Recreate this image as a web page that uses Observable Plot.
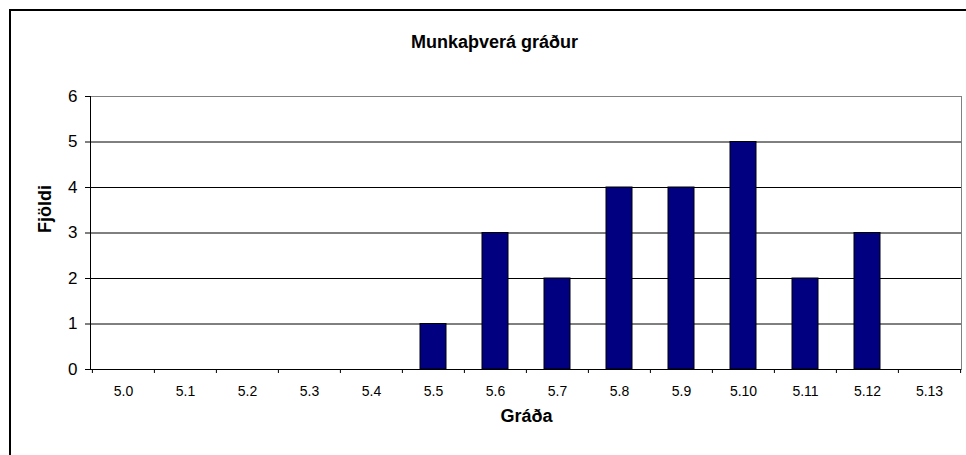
<!DOCTYPE html>
<html><head><meta charset="utf-8">
<script src="https://cdn.jsdelivr.net/npm/d3@7"></script>
<script src="https://cdn.jsdelivr.net/npm/@observablehq/plot@0.6"></script>
<style>
html,body{margin:0;padding:0;background:#fff;overflow:hidden;width:966px;height:455px;}
#border{position:absolute;left:9px;top:9px;width:1200px;height:800px;border:2px solid #000;}
#chart{position:absolute;left:0;top:0;}
</style></head><body>
<div id="border"></div><div id="chart"></div>
<script>
const categories = ["5.0","5.1","5.2","5.3","5.4","5.5","5.6","5.7","5.8","5.9","5.10","5.11","5.12","5.13"];
const counts = [0,0,0,0,0,1,3,2,4,4,5,2,3,0];
const yTicks = [0,1,2,3,4,5,6];
const title = "Munkaþverá gráður";
const xLabel = "Gráða";
const yLabel = "Fjöldi";

const data = categories.map((c, i) => ({cat: c, n: counts[i]}));
const W = 966, H = 455, mL = 90, mR = 5, mT = 96, mB = 86;
const bw = (W - mL - mR) / categories.length;
const font = "'Liberation Sans', Arial, sans-serif";

const plot = Plot.plot({
  width: W, height: H,
  marginLeft: mL, marginRight: mR, marginTop: mT, marginBottom: mB,
  style: {fontFamily: font, background: "transparent", color: "#000"},
  x: {type: "band", domain: categories, padding: 0},
  y: {domain: [0, 6]},
  marks: [
    Plot.frame({stroke: "#808080"}),
    Plot.ruleY(yTicks.filter(v => v > 0 && v < 6), {stroke: "#000"}),
    Plot.barY(data, {x: "cat", y: "n", fill: "#000080", stroke: "#000", strokeWidth: 1, insetLeft: 18, insetRight: 18}),
    Plot.ruleY([0], {stroke: "#000"}),
    Plot.frame({anchor: "left", stroke: "#000"}),
    Plot.axisY(yTicks, {tickSize: 5, tickPadding: 8, fontSize: 17, label: null}),
    Plot.axisX(categories, {tickSize: 4, tickFormat: () => "", dx: -bw / 2, label: null}),
    Plot.axisX([categories[categories.length - 1]], {tickSize: 4, tickFormat: () => "", dx: bw / 2, label: null}),
    Plot.axisX(categories, {tickSize: 0, tickPadding: 17, fontSize: 14, label: null}),
    Plot.text([title], {frameAnchor: "top", dx: -31.5, dy: -61.3, fontSize: 18, fontWeight: "bold"}),
    Plot.text([xLabel], {frameAnchor: "bottom", dx: 0.5, dy: 52.5, fontSize: 18, fontWeight: "bold"}),
    Plot.text([yLabel], {frameAnchor: "left", dx: -45.5, rotate: -90, fontSize: 18, fontWeight: "bold"})
  ]
});
document.getElementById("chart").appendChild(plot);
</script>
</body></html>
